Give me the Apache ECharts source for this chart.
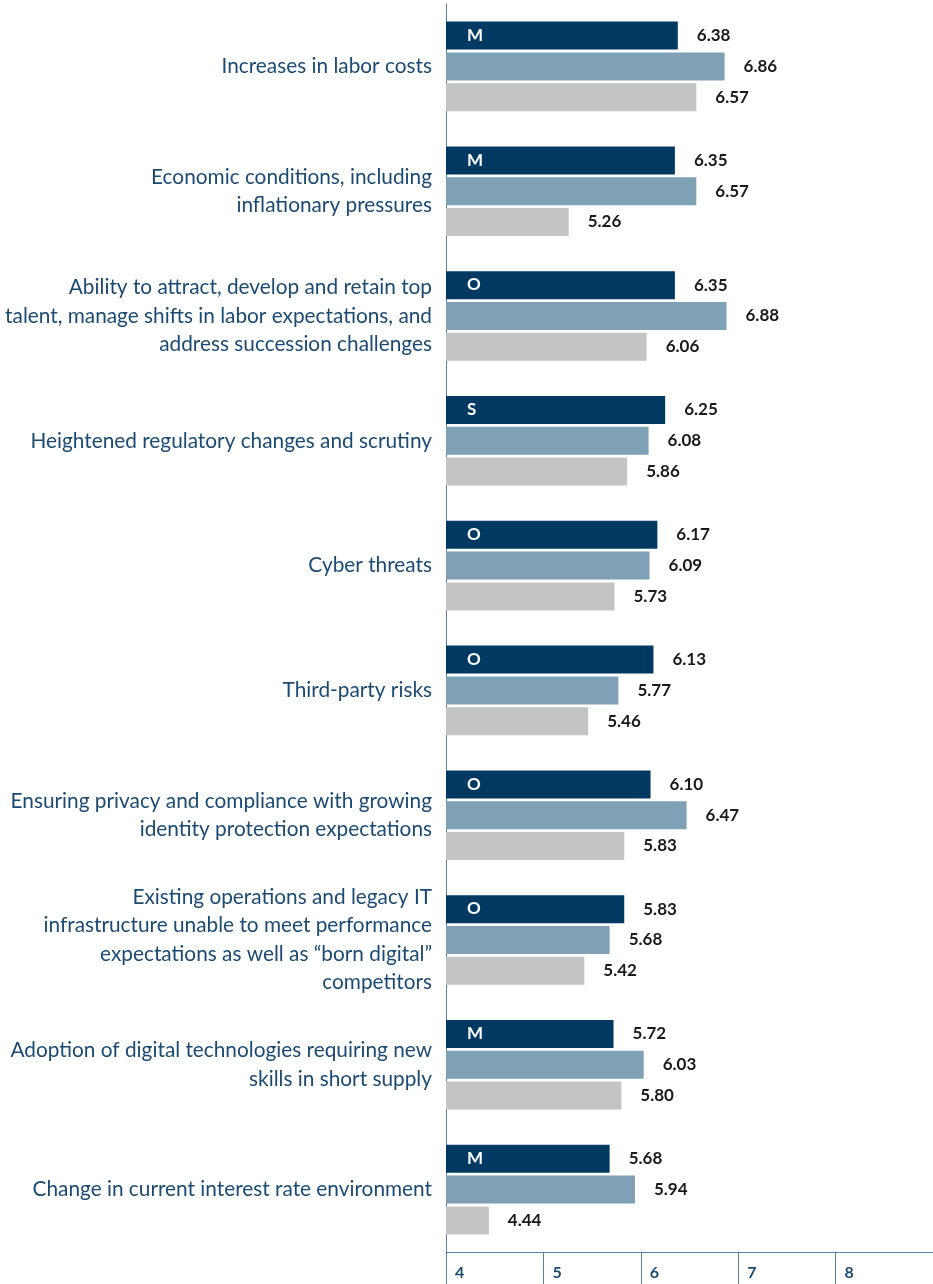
<!DOCTYPE html>
<html><head><meta charset="utf-8">
<script src="https://cdn.jsdelivr.net/npm/echarts@6/dist/echarts.min.js"></script>
<style>html,body{margin:0;padding:0;background:#fff}#c{width:933px;height:1284px}</style>
</head><body><div id="c"></div>
<script>
const categories = [
  "Increases in labor costs",
  "Economic conditions, including\ninflationary pressures",
  "Ability to attract, develop and retain top\ntalent, manage shifts in labor expectations, and\naddress succession challenges",
  "Heightened regulatory changes and scrutiny",
  "Cyber threats",
  "Third-party risks",
  "Ensuring privacy and compliance with growing\nidentity protection expectations",
  "Existing operations and legacy IT\ninfrastructure unable to meet performance\nexpectations as well as \u201cborn digital\u201d\ncompetitors",
  "Adoption of digital technologies requiring new\nskills in short supply",
  "Change in current interest rate environment"
];
const codes = ["M","M","O","S","O","O","O","O","M","M"];
const series1 = [6.38, 6.35, 6.35, 6.25, 6.17, 6.13, 6.10, 5.83, 5.72, 5.68];
const series2 = [6.86, 6.57, 6.88, 6.08, 6.09, 5.77, 6.47, 5.68, 6.03, 5.94];
const series3 = [6.57, 5.26, 6.06, 5.86, 5.73, 5.46, 5.83, 5.42, 5.80, 4.44];
const xTicks = [4, 5, 6, 7, 8];

const BW = 28, GAP = 3;
const valLabel = {show:true, position:'right', distance:19, color:'#1a1a1a', fontFamily:'Lato', fontWeight:'bold', fontSize:17, formatter:p=>p.value.toFixed(2)};
const chart = echarts.init(document.getElementById('c'));
chart.setOption({
  animation:false,
  grid:{left:446, right:0, top:4, bottom:32, outerBoundsMode:'none', containLabel:false},
  xAxis:{type:'value', min:4, max:9, interval:1,
    axisLine:{show:true, lineStyle:{color:'#5b7fa0', width:1}},
    axisTick:{show:true, inside:false, length:32, customValues:xTicks, lineStyle:{color:'#5b7fa0'}},
    splitLine:{show:false},
    axisLabel:{margin:13, align:'left', padding:[0,0,0,9], color:'#1b4a72', fontFamily:'Lato', fontWeight:'bold', fontSize:16,
      customValues:xTicks, formatter:v=> String(v)}
  },
  yAxis:{type:'category', data:categories, inverse:true,
    axisLine:{show:true, lineStyle:{color:'#5b7fa0'}},
    axisTick:{show:false},
    axisLabel:{margin:14, align:'right', color:'#1b4a72', fontFamily:'Lato', fontSize:20.8, lineHeight:28.5}
  },
  series:[
    {type:'bar', data:series1, barWidth:BW, barGap:'10%', barCategoryGap:'28%', itemStyle:{color:'#003a63'}, label:valLabel},
    {type:'bar', data:series2, barWidth:BW, barGap:'10%', itemStyle:{color:'#7fa1b6'}, label:valLabel},
    {type:'bar', data:series3, barWidth:BW, barGap:'10%', itemStyle:{color:'#c4c4c4'}, label:valLabel},
    {type:'custom', data:codes.map((c,i)=>[4, i]), z:10,
      renderItem:function(params, api){
        const pt = api.coord([api.value(0), api.value(1)]);
        return {type:'text', x:pt[0]+21, y:pt[1]-(BW+GAP),
          style:{text:codes[params.dataIndex], fill:'#fff', font:'bold 17px Lato', verticalAlign:'middle', align:'left'}};
      }
    }
  ]
});
</script></body></html>
